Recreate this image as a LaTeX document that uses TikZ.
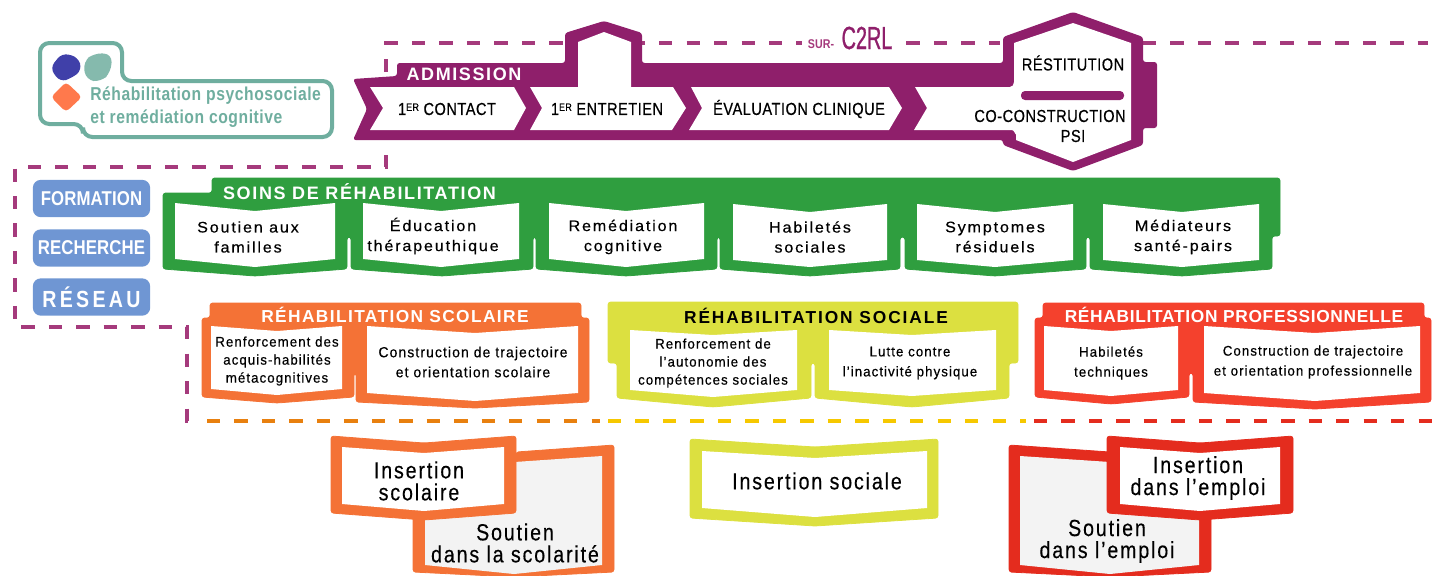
\documentclass[tikz,border=0pt]{standalone}
\usepackage{fontspec}
\setmainfont{Liberation Sans}
\newfontfamily\flab[FakeStretch=1.05,LetterSpace=12,FakeBold=0.4]{Liberation Sans}
\newfontfamily\fcap[FakeStretch=0.84,LetterSpace=3,FakeBold=0.5]{Liberation Sans}
\newfontfamily\fslab[FakeStretch=0.95,LetterSpace=7.5,FakeBold=0.4]{Liberation Sans}
\newfontfamily\fbig[FakeStretch=0.84,LetterSpace=8,FakeBold=0.3]{Liberation Sans}
\newfontfamily\flogo[FakeStretch=0.84,LetterSpace=3]{Liberation Sans}
\newfontfamily\fside[FakeStretch=0.84,LetterSpace=0.5]{Liberation Sans}
\newfontfamily\fsider[FakeStretch=0.84,LetterSpace=14]{Liberation Sans}
\newfontfamily\fctwo[FakeStretch=0.62,FakeBold=0.8]{Liberation Sans}
\newfontfamily\head{Liberation Sans}
\definecolor{purp}{HTML}{8F1F6B}
\definecolor{dashp}{HTML}{A53A7C}
\definecolor{grn}{HTML}{2F9E3F}
\definecolor{org}{HTML}{F47236}
\definecolor{yel}{HTML}{DCE040}
\definecolor{redl}{HTML}{F4412D}
\definecolor{redd}{HTML}{E42C1E}
\definecolor{teal2}{HTML}{6FAE9F}
\definecolor{blu}{HTML}{6F96D3}
\definecolor{grayf}{HTML}{F3F3F3}
\definecolor{dasho}{HTML}{E8800F}
\definecolor{dashy}{HTML}{F6C800}
\tikzset{
 shapefill/.style={fill=#1,draw=#1,line width=0.6pt,line join=round,rounded corners=2pt},
 dashline/.style={draw=#1,line width=2.3pt,dash pattern=on 10pt off 10.6pt},
 lab/.style={font=\flab\fontsize{11.5}{15}\selectfont,inner sep=0pt,text=black,align=center},
 slab/.style={font=\fslab\fontsize{11}{15}\selectfont,inner sep=0pt,text=black,align=center},
 slabt/.style={font=\fslab\fontsize{10.5}{13.5}\selectfont,inner sep=0pt,text=black,align=center},
 blab/.style={font=\fbig\fontsize{17.5}{16.5}\selectfont,inner sep=0pt,text=black,align=center},
 caplab/.style={font=\fcap\fontsize{13}{15}\selectfont,inner sep=0pt,text=black,align=center},
 hd/.style 2 args={font=\head\bfseries\addfontfeature{LetterSpace=#2}\fontsize{#1}{15}\selectfont,inner sep=0pt,text=white},
 side/.style={fill=blu,rounded corners=6pt,text=white,inner sep=0pt,minimum width=88pt,minimum height=28pt}
}
\newcommand{\sidelab}{\fside\bfseries\fontsize{15}{17}\selectfont}
\newcommand{\siderlab}{\fsider\bfseries\fontsize{17.5}{19}\selectfont}
\newcommand{\ersup}{\raisebox{0.45ex}{\fontsize{8}{8}\selectfont ER}}
\begin{document}
\begin{tikzpicture}[x=0.75pt,y=-0.75pt]
\useasboundingbox (0,0) rectangle (1433,575);
% dashed lines
\coordinate (d1) at (386,72); \coordinate (d2) at (386,43); \coordinate (d3) at (1000,43);
\coordinate (d4) at (1143,43); \coordinate (d5) at (1428,43);
\draw[dashline=dashp] (d1) -- (d2) -- (d3);
\draw[dashline=dashp] (d4) -- (d5);
\fill[white] (802,30) rectangle (898,52);
\coordinate (e1) at (386,155); \coordinate (e2) at (386,167); \coordinate (e3) at (15,167);
\coordinate (e4) at (15,327); \coordinate (e5) at (187,327); \coordinate (e6) at (187,421); \coordinate (e7) at (198,421);
\draw[dashline=dashp] (e1) -- (e2) -- (e3) -- (e4) -- (e5) -- (e6) -- (e7);
\coordinate (f1) at (207,421); \coordinate (f2) at (600,421); \coordinate (f3) at (608,421);
\coordinate (f4) at (1026,421); \coordinate (f5) at (1034,421); \coordinate (f6) at (1433,421);
\draw[dashline=dasho] (f1) -- (f2);
\draw[dashline=dashy] (f3) -- (f4);
\draw[dashline=redd] (f5) -- (f6);
% logo
\draw[teal2,line width=3pt,rounded corners=7pt,fill=white] (40,43) -- (122,43) -- (122,81) -- (332,81) -- (332,137) -- (83,137) -- (83,124) -- (40,124) -- cycle;
\fill[fill=blue!55!black!75!white,rounded corners=5pt] (50,68) -- (62,53) -- (78,57) -- (82,70) -- (72,78) -- (60,82) -- cycle;
\fill[teal2!85!white,rounded corners=6pt] (83,62) -- (94,53) -- (112,54) -- (111,72) -- (101,82) -- (86,80) -- cycle;
\fill[red!50!orange!70!white,rounded corners=3pt] (66,82) -- (82,97) -- (66,112) -- (51,97) -- cycle;
\node[font=\flogo\bfseries\fontsize{14}{14}\selectfont,text=teal2,anchor=west,inner sep=0pt] (lg1) at (90,96) {Réhabilitation psychosociale};
\node[font=\flogo\bfseries\fontsize{14}{14}\selectfont,text=teal2,anchor=west,inner sep=0pt] (lg2) at (90,119) {et remédiation cognitive};
% admission frame
\fill[purp,rounded corners=2pt] (353,79) -- (397,76) -- (397,63) -- (565,63) -- (565,33) -- (604,21) -- (642,33) -- (642,63) -- (1003,63) -- (1003,37) -- (1073,12) -- (1143,37) -- (1143,62) -- (1157,62) -- (1157,128) -- (1143,128) -- (1143,145) -- (1073,171) -- (1003,145) -- (1003,140) -- (353,140) -- (367,109) -- cycle;
\fill[white] (370,87) -- (514,87) -- (526,108) -- (514,130) -- (370,130) -- (383,108) -- cycle;
\fill[white] (530,87) -- (578,87) -- (578,42) -- (604,32) -- (631,42) -- (631,87) -- (673,87) -- (686,108) -- (672,130) -- (530,130) -- (542,108) -- cycle;
\fill[white] (691,87) -- (889,87) -- (902,108) -- (889,130) -- (689,130) -- (702,108) -- cycle;
\fill[white] (915,87) -- (1010,87) to[out=0,in=-90] (1014,82) -- (1014,43) -- (1073,23) -- (1131,43) -- (1131,140) -- (1073,162) -- (1016,140) -- (1016,134) to[out=-90,in=0] (1012,130) -- (914,130) -- (927,108) -- cycle;
\fill[purp,rounded corners=3pt] (1021,91) rectangle (1124,100);
\node[hd={13.5}{9}] (adm) at (464,74) {ADMISSION};
\node[caplab] (c1) at (447,109) {1\ersup{} CONTACT};
\node[caplab] (c2) at (607,109) {1\ersup{} ENTRETIEN};
\node[caplab] (c3) at (799,109) {ÉVALUATION CLINIQUE};
\node[caplab] (c4) at (1073,63) {RÉSTITUTION};
\node[caplab] (c5) at (1050,116) {CO-CONSTRUCTION};
\node[caplab] (c6) at (1073,136) {PSI};
\node[font=\fside\bfseries\fontsize{9.5}{10}\selectfont,text=dashp,inner sep=0pt] (s1) at (821,44) {SUR-};
\node[font=\fctwo\fontsize{24}{24}\selectfont,text=purp,inner sep=0pt] (s2) at (867,38) {C2RL};
% side boxes
\node[side,font=\sidelab] (b1) at (91.5,198.5) {FORMATION};
\node[side,font=\sidelab] (b2) at (91.5,248) {RECHERCHE};
\node[side,font=\siderlab] (b3) at (91.5,297) {RÉSEAU};
% green
\fill[shapefill=grn] (163,193) -- (212,193) -- (212,178) -- (1280,178) -- (1280,236) -- (1272,236) -- (1272,269) -- (1182,276) -- (1090,269) -- (1090,237) -- (1086,237) -- (1086,269) -- (995,276) -- (905,269) -- (905,237) -- (900,237) -- (900,269) -- (810,276) -- (720,269) -- (720,237) -- (717,237) -- (717,269) -- (626,276) -- (536,269) -- (536,237) -- (533,237) -- (533,269) -- (442,276) -- (351,269) -- (351,237) -- (347,237) -- (347,269) -- (255,276) -- (163,269) -- cycle;
\fill[white] (175,203) -- (255,211) -- (335,203) -- (335,259) -- (255,267) -- (175,259) -- cycle;
\fill[white] (363,203) -- (441,211) -- (519,203) -- (519,259) -- (441,267) -- (363,259) -- cycle;
\fill[white] (549,203) -- (626,211) -- (704,203) -- (704,259) -- (626,267) -- (549,259) -- cycle;
\fill[white] (733,204) -- (810,212) -- (887,204) -- (887,260) -- (810,267) -- (733,260) -- cycle;
\fill[white] (917,204) -- (995,212) -- (1073,204) -- (1073,260) -- (995,267) -- (917,260) -- cycle;
\fill[white] (1103,204) -- (1182,212) -- (1259,204) -- (1259,260) -- (1182,267) -- (1103,260) -- cycle;
\node[hd={13.5}{9}] (h1) at (359.5,192) {SOINS DE RÉHABILITATION};
\node[lab] (g1) at (248,237) {Soutien aux\\familles};
\node[lab] (g2) at (433,236) {Éducation\\thérapeuthique};
\node[lab] (g3) at (623,237) {Remédiation\\cognitive};
\node[lab] (g4) at (810,237) {Habiletés\\sociales};
\node[lab] (g5) at (995,237) {Symptomes\\résiduels};
\node[lab] (g6) at (1183,237) {Médiateurs\\santé-pairs};
% orange
\fill[shapefill=org] (202,318) -- (210,318) -- (210,303) -- (581,303) -- (581,318) -- (589,318) -- (589,402) -- (475,408) -- (356,402) -- (356,373) -- (354,373) -- (354,397) -- (277,403) -- (202,397) -- cycle;
\fill[white] (211,326) -- (277,331) -- (342,326) -- (342,389) -- (277,395) -- (211,389) -- cycle;
\fill[white] (367,326) -- (475,333) -- (578,326) -- (578,393) -- (475,401) -- (367,393) -- cycle;
\node[hd={13}{8}] (h2) at (395,315) {RÉHABILITATION SCOLAIRE};
\node[slabt] (o1) at (277,361) {Renforcement des\\acquis-habilités\\métacognitives};
\node[slab] (o2) at (473,362) {Construction de trajectoire\\et orientation scolaire};
% yellow
\fill[shapefill=yel] (608,302) -- (1018,302) -- (1018,363) -- (1009,363) -- (1009,398) -- (912,407) -- (815,398) -- (815,363) -- (811,363) -- (811,398) -- (713,407) -- (617,398) -- (617,363) -- (608,363) -- cycle;
\fill[white] (630,330) -- (713,335) -- (797,330) -- (797,390) -- (713,397) -- (630,390) -- cycle;
\fill[white] (829,330) -- (912,335) -- (996,330) -- (996,390) -- (912,396) -- (829,390) -- cycle;
\node[hd={13}{11},text=black] (h3) at (816,316) {RÉHABILITATION SOCIALE};
\node[slabt] (y1) at (713,363) {Renforcement de\\l’autonomie des\\compétences sociales};
\node[slabt] (y2) at (910,363) {Lutte contre\\[1.5pt]l’inactivité physique};
% red
\fill[shapefill=redl] (1035,318) -- (1043,318) -- (1043,303) -- (1424,303) -- (1424,318) -- (1431,318) -- (1431,402) -- (1315,409) -- (1193,402) -- (1193,373) -- (1189,373) -- (1189,397) -- (1111,404) -- (1035,397) -- cycle;
\fill[white] (1044,326) -- (1111,331) -- (1178,326) -- (1178,390) -- (1111,396) -- (1044,390) -- cycle;
\fill[white] (1204,326) -- (1315,333) -- (1420,326) -- (1420,393) -- (1315,401) -- (1204,393) -- cycle;
\node[hd={13}{4}] (h4) at (1234,315) {RÉHABILITATION PROFESSIONNELLE};
\node[slabt] (r1) at (1111,363) {Habiletés\\[1.5pt]techniques};
\node[slabt] (r2) at (1313,362) {Construction de trajectoire\\[1.5pt]et orientation professionnelle};
% bottom orange
\fill[shapefill=org] (516,452) -- (614,445) -- (614,572) -- (514,577) -- (413,572) -- (413,500) -- (516,500) -- cycle;
\fill[grayf] (500,463) -- (602,456) -- (602,565) -- (514,574) -- (425,565) -- (425,505) -- (500,505) -- cycle;
\fill[shapefill=org] (331,436) -- (424,443) -- (516,436) -- (516,513) -- (424,520) -- (331,513) -- cycle;
\fill[white] (342,447) -- (424,453) -- (504,447) -- (504,504) -- (424,511) -- (342,504) -- cycle;
\node[blab] (bo1) at (419,481) {Insertion\\scolaire};
\node[blab] (bo2) at (515,543) {Soutien\\dans la scolarité};
% bottom yellow
\fill[shapefill=yel] (690,439) -- (815,447) -- (938,439) -- (938,518) -- (815,526) -- (690,518) -- cycle;
\fill[white] (702,451) -- (815,458) -- (927,451) -- (927,508) -- (815,517) -- (702,508) -- cycle;
\node[blab] (by) at (817,481) {Insertion sociale};
% bottom red
\fill[shapefill=redd] (1009,445) -- (1110,452) -- (1211,500) -- (1211,572) -- (1110,577) -- (1009,572) -- cycle;
\fill[grayf] (1020,456) -- (1125,463) -- (1199,505) -- (1199,565) -- (1110,574) -- (1020,565) -- cycle;
\fill[shapefill=redd] (1107,436) -- (1200,443) -- (1293,436) -- (1293,513) -- (1200,520) -- (1107,513) -- cycle;
\fill[white] (1120,447) -- (1200,453) -- (1280,447) -- (1280,504) -- (1200,511) -- (1120,504) -- cycle;
\node[blab] (br1) at (1198,478) {Insertion\\dans l’emploi};
\node[blab] (br2) at (1107,541) {Soutien\\dans l’emploi};
\end{tikzpicture}
\end{document}
